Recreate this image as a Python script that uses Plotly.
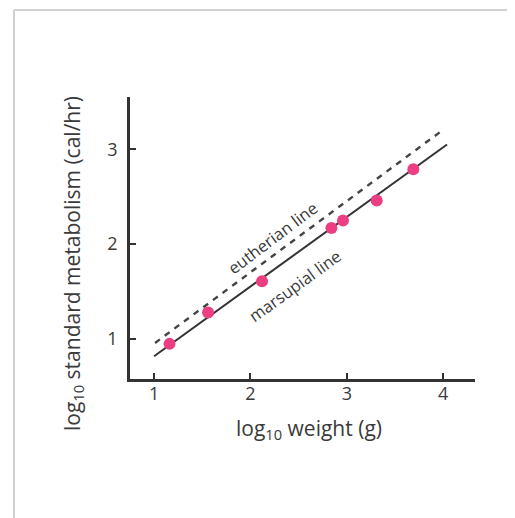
import plotly.graph_objects as go

# data
log_weight = [1.16, 1.56, 2.12, 2.84, 2.96, 3.31, 3.69]
log_metab = [0.95, 1.28, 1.61, 2.17, 2.25, 2.46, 2.79]

marsupial_x = [1.0, 4.04]
marsupial_y = [0.82, 3.05]
eutherian_x = [1.01, 3.98]
eutherian_y = [0.96, 3.19]

x_ticks = [1, 2, 3, 4]
y_ticks = [1, 2, 3]

FONT = "Open Sans"
TXT = "#3a3a3a"

# plot area in figure pixels (page has an 8px body margin)
L, T, W, H = 122, 89, 345, 282

fig = go.Figure()
fig.add_trace(go.Scatter(x=eutherian_x, y=eutherian_y, mode="lines",
                         line=dict(color="#444444", width=2.4, dash="6px,6px"),
                         showlegend=False, hoverinfo="skip"))
fig.add_trace(go.Scatter(x=marsupial_x, y=marsupial_y, mode="lines",
                         line=dict(color="#333333", width=2),
                         showlegend=False, hoverinfo="skip"))
fig.add_trace(go.Scatter(x=log_weight, y=log_metab, mode="markers",
                         marker=dict(color="#ec3f82", size=12, line=dict(width=0)),
                         showlegend=False))

fig.add_annotation(x=2.23, y=2.07, text="eutherian line", showarrow=False,
                   textangle=-37, font=dict(family=FONT, size=16.5, color=TXT))
fig.add_annotation(x=2.46, y=1.57, text="marsupial line", showarrow=False,
                   textangle=-36, font=dict(family=FONT, size=16.5, color=TXT))

# axis titles placed as in the picture
fig.add_annotation(xref="paper", yref="paper", x=(65 - L) / W, y=(T + H - 256) / H,
                   text="log<sub>10</sub> standard metabolism (cal/hr)", showarrow=False,
                   textangle=-90, xanchor="center", yanchor="middle",
                   font=dict(family=FONT, size=21, color=TXT))
fig.add_annotation(xref="paper", yref="paper", x=(301 - L) / W, y=(T + H - 421) / H,
                   text="log<sub>10</sub> weight (g)", showarrow=False,
                   xanchor="center", yanchor="middle",
                   font=dict(family=FONT, size=21, color=TXT))

# outer frame of the picture
fx = (6 - L) / W
fy = (T + H - 2) / H
fig.add_shape(type="line", xref="paper", yref="paper",
              x0=fx, x1=1.3, y0=fy, y1=fy,
              line=dict(color="#d0d0d0", width=2))
fig.add_shape(type="line", xref="paper", yref="paper",
              x0=fx, x1=fx, y0=fy, y1=-0.7,
              line=dict(color="#d0d0d0", width=2))

fig.update_layout(
    width=515, height=518,
    margin=dict(l=L, r=515 - L - W, t=T, b=518 - T - H),
    paper_bgcolor="white", plot_bgcolor="white",
    font=dict(family=FONT, color=TXT),
    xaxis=dict(range=[0.75, 4.33], tickvals=x_ticks, ticks="inside", ticklen=6,
               tickwidth=2, tickcolor="#333", showline=True, linecolor="#333",
               linewidth=2.5, showgrid=False, zeroline=False,
               ticklabelstandoff=-3,
               tickfont=dict(family=FONT, size=18, color=TXT)),
    yaxis=dict(range=[0.58, 3.55], tickvals=y_ticks, ticks="inside", ticklen=6,
               tickwidth=2, tickcolor="#333", showline=True, linecolor="#333",
               linewidth=2.5, showgrid=False, zeroline=False,
               ticklabelstandoff=6,
               tickfont=dict(family=FONT, size=18, color=TXT)),
)

fig.write_html("out.html")
